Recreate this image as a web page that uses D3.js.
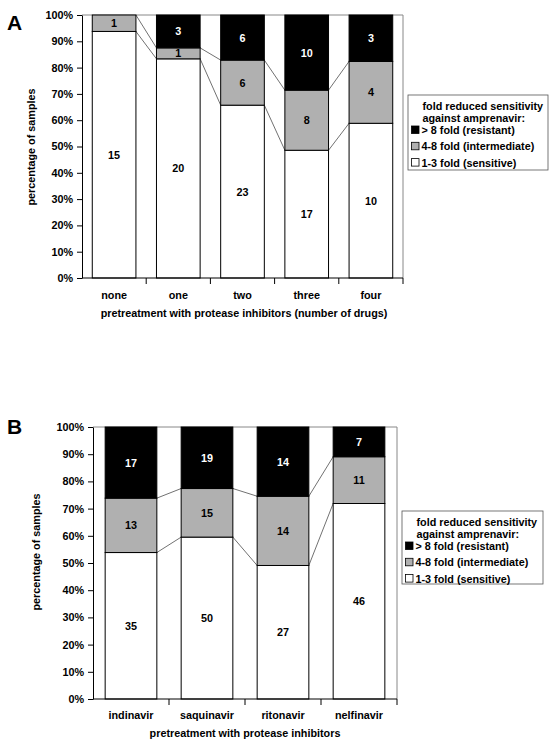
<!DOCTYPE html>
<html><head><meta charset="utf-8">
<script src="https://cdn.jsdelivr.net/npm/d3@7"></script>
<style>body{margin:0;background:#fff}svg{display:block}text{font-family:"Liberation Sans",Arial,sans-serif;font-weight:bold}</style>
</head><body>
<svg id="c" width="556" height="743"></svg>
<script>
const categoriesA = ["none", "one", "two", "three", "four"];
const sensitiveA = [15, 20, 23, 17, 10];
const intermediateA = [1, 1, 6, 8, 4];
const resistantA = [0, 3, 6, 10, 3];

const categoriesB = ["indinavir", "saquinavir", "ritonavir", "nelfinavir"];
const sensitiveB = [35, 50, 27, 46];
const intermediateB = [13, 15, 14, 11];
const resistantB = [17, 19, 14, 7];

const yTickValues = [0, 0.1, 0.2, 0.3, 0.4, 0.5, 0.6, 0.7, 0.8, 0.9, 1.0];
const legendTitle = ["fold reduced sensitivity", "against amprenavir:"];
const legendLabels = ["> 8 fold (resistant)", "4-8 fold (intermediate)", "1-3 fold (sensitive)"];
const seriesColors = ["#000000", "#b0b0b0", "#ffffff"];
const yTitle = "percentage of samples";
const xTitleA = "pretreatment with protease inhibitors (number of drugs)";
const xTitleB = "pretreatment with protease inhibitors";

const FS = 10.8;
const svg = d3.select("#c");

function panel(o) {
  const g = svg.append("g");
  const x = d3.scaleBand().domain(o.cats).range([o.x0, o.x1]).paddingInner(0.32).paddingOuter(0.16);
  const y = d3.scaleLinear().domain([0, 1]).range([o.y0, o.y1]);
  const rows = o.cats.map((c, i) => {
    const t = o.sens[i] + o.inter[i] + o.res[i];
    return {c, t, segs: [
      {v: o.sens[i], a: 0, b: o.sens[i] / t, k: 2},
      {v: o.inter[i], a: o.sens[i] / t, b: (o.sens[i] + o.inter[i]) / t, k: 1},
      {v: o.res[i], a: (o.sens[i] + o.inter[i]) / t, b: 1, k: 0}
    ]};
  });
  g.append("path").attr("d", `M${o.x0},${y(1)}H${o.x1}V${y(0)}`).attr("fill", "none").attr("stroke", "#888").attr("stroke-width", 1);
  for (let i = 0; i < rows.length - 1; i++) {
    const xa = x(rows[i].c) + x.bandwidth(), xb = x(rows[i + 1].c);
    [0, 1].forEach(s => {
      g.append("line").attr("x1", xa).attr("x2", xb)
        .attr("y1", y(rows[i].segs[s].b)).attr("y2", y(rows[i + 1].segs[s].b))
        .attr("stroke", "#333").attr("stroke-width", 0.7);
    });
  }
  rows.forEach(r => {
    r.segs.forEach(s => {
      if (s.v <= 0) return;
      g.append("rect").attr("x", x(r.c)).attr("width", x.bandwidth())
        .attr("y", y(s.b)).attr("height", y(s.a) - y(s.b))
        .attr("fill", seriesColors[s.k]).attr("stroke", "#000").attr("stroke-width", 1);
      g.append("text").attr("x", x(r.c) + x.bandwidth() / 2).attr("y", (y(s.a) + y(s.b)) / 2 + 4)
        .attr("text-anchor", "middle").attr("font-size", FS)
        .attr("fill", s.k === 0 ? "#fff" : "#000").text(s.v);
    });
  });
  const ya = g.append("g").attr("transform", `translate(${o.x0},0)`)
    .call(d3.axisLeft(y).tickValues(yTickValues).tickFormat(d3.format(".0%")).tickSize(5).tickSizeOuter(0));
  ya.select(".domain").attr("stroke", "#000");
  ya.selectAll("text").attr("font-size", FS).attr("font-family", "Liberation Sans, Arial, sans-serif").attr("fill", "#000").attr("dx", "-1");
  g.append("line").attr("x1", o.x0).attr("x2", o.x1).attr("y1", y(0)).attr("y2", y(0)).attr("stroke", "#000");
  const step = x.step();
  for (let i = 1; i <= o.cats.length; i++) {
    g.append("line").attr("x1", o.x0 + i * step).attr("x2", o.x0 + i * step)
      .attr("y1", y(0)).attr("y2", y(0) + 6).attr("stroke", "#000");
  }
  o.cats.forEach(c => {
    g.append("text").attr("x", x(c) + x.bandwidth() / 2).attr("y", o.catY).attr("text-anchor", "middle")
      .attr("font-size", FS).text(c);
  });
  g.append("text").attr("x", o.xTitleX).attr("y", o.xTitleY).attr("text-anchor", "middle").attr("font-size", FS).text(o.xTitle);
  g.append("text").attr("transform", `translate(${o.yTitleX},${o.yTitleY}) rotate(-90)`).attr("text-anchor", "middle").attr("font-size", FS).text(yTitle);
  g.append("text").attr("x", o.letterX).attr("y", o.letterY).attr("font-size", 21).text(o.letter);
  const L = o.leg;
  g.append("rect").attr("x", L.x).attr("y", L.y).attr("width", L.w).attr("height", L.h)
    .attr("fill", "#fff").attr("stroke", "#555").attr("stroke-width", 0.8);
  legendTitle.forEach((t, i) => {
    g.append("text").attr("x", L.x + 14.5).attr("y", L.y + 14.5 + i * 12.3).attr("font-size", FS).text(t);
  });
  legendLabels.forEach((t, i) => {
    const yy = L.y + 39 + i * 16.3;
    g.append("rect").attr("x", L.x + 3.5).attr("y", yy - 8).attr("width", 7.5).attr("height", 7.5)
      .attr("fill", seriesColors[i]).attr("stroke", "#000").attr("stroke-width", 0.8);
    g.append("text").attr("x", L.x + 13.5).attr("y", yy).attr("font-size", FS).text(t);
  });
}

panel({cats: categoriesA, sens: sensitiveA, inter: intermediateA, res: resistantA,
  x0: 82, x1: 403, y0: 278, y1: 15, catY: 299, xTitle: xTitleA, xTitleX: 244, xTitleY: 317,
  yTitleX: 35, yTitleY: 147, letter: "A", letterX: 7, letterY: 30,
  leg: {x: 408, y: 95, w: 140, h: 75}});
panel({cats: categoriesB, sens: sensitiveB, inter: intermediateB, res: resistantB,
  x0: 93, x1: 397, y0: 699, y1: 427, catY: 719, xTitle: xTitleB, xTitleX: 245, xTitleY: 737,
  yTitleX: 40, yTitleY: 552, letter: "B", letterX: 7, letterY: 434,
  leg: {x: 402, y: 511, w: 141, h: 73}});
</script>
</body></html>
